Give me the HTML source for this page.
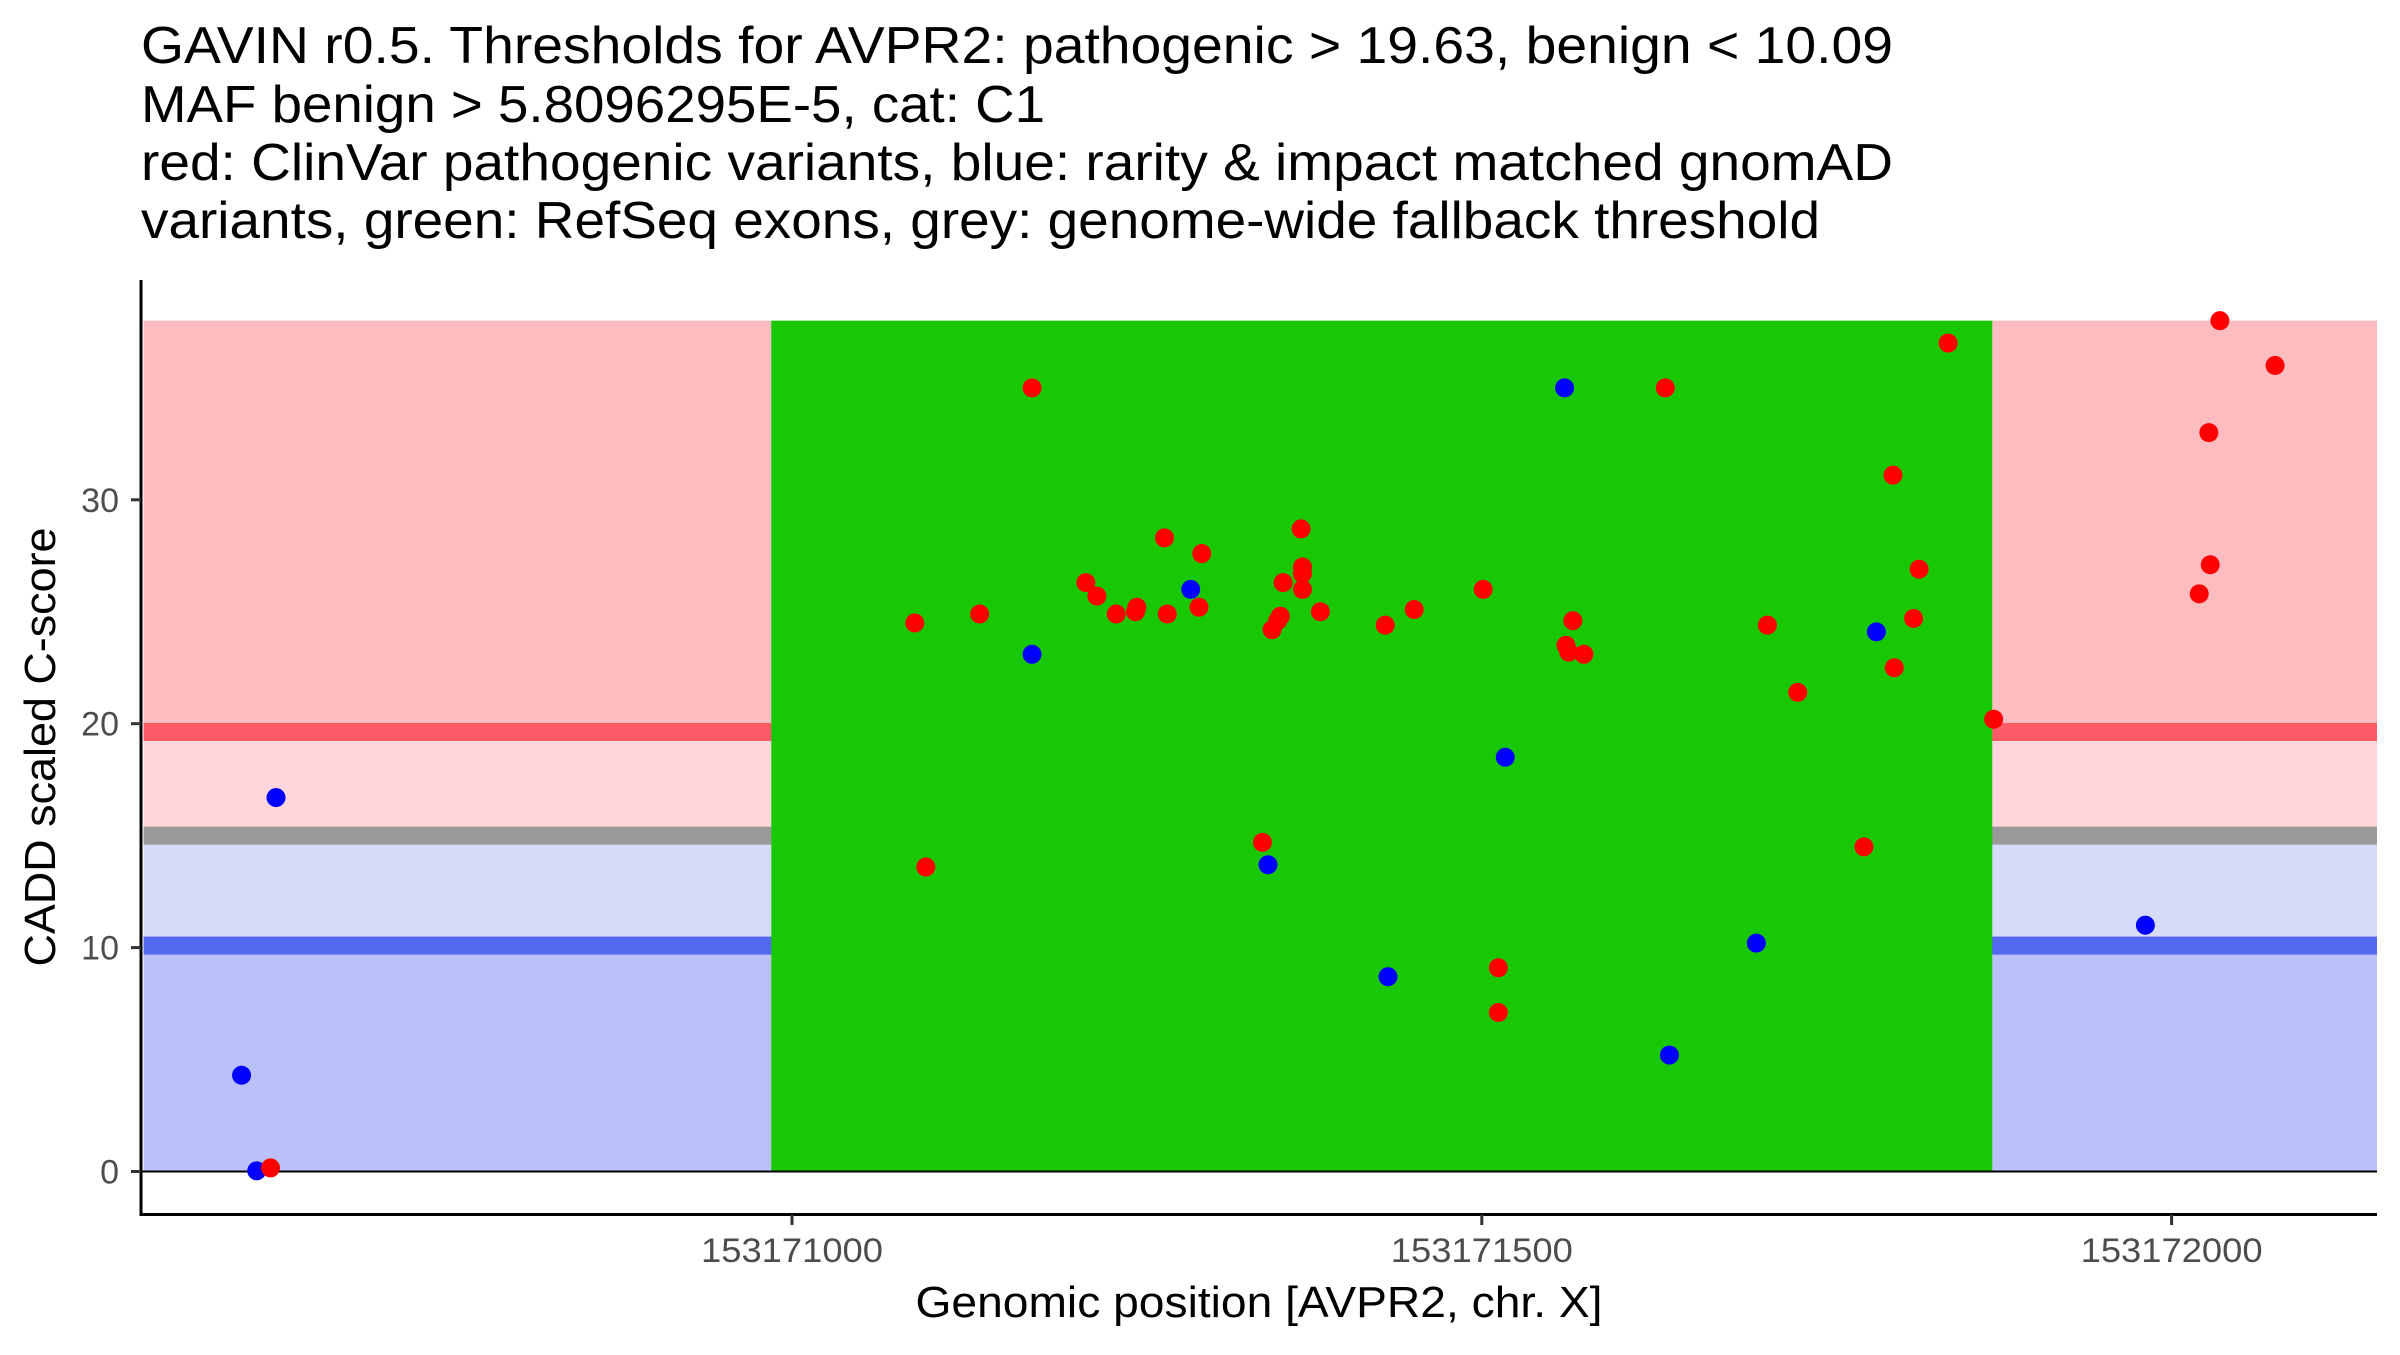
<!DOCTYPE html>
<html><head><meta charset="utf-8"><style>
html,body{margin:0;padding:0;background:#fff;}
svg text{font-family:"Liberation Sans",Arial,sans-serif;}
</style></head><body>
<svg id="chart" width="2400" height="1350" viewBox="0 0 2400 1350" xmlns="http://www.w3.org/2000/svg">
<g font-size="52" fill="#000">
<text x="141" y="63" textLength="1752" lengthAdjust="spacingAndGlyphs">GAVIN r0.5. Thresholds for AVPR2: pathogenic &gt; 19.63, benign &lt; 10.09</text>
<text x="141" y="122" textLength="904" lengthAdjust="spacingAndGlyphs">MAF benign &gt; 5.8096295E-5, cat: C1</text>
<text x="141" y="180" textLength="1752" lengthAdjust="spacingAndGlyphs">red: ClinVar pathogenic variants, blue: rarity &amp; impact matched gnomAD</text>
<text x="141" y="238" textLength="1679" lengthAdjust="spacingAndGlyphs">variants, green: RefSeq exons, grey: genome-wide fallback threshold</text>
</g>
<g id="bands"></g>
<g id="axes"></g>
<g id="points"></g>
<text x="1259" y="1317" font-size="44" text-anchor="middle" fill="#000" textLength="687" lengthAdjust="spacingAndGlyphs">Genomic position [AVPR2, chr. X]</text>
<text transform="translate(55,747) rotate(-90)" font-size="44" text-anchor="middle" fill="#000" textLength="439" lengthAdjust="spacingAndGlyphs">CADD scaled C-score</text>
</svg>
<script>
const pathogenicThreshold = 19.63;
const benignThreshold = 10.09;
const fallbackThreshold = 15.0;
const yMaxBand = 38.0;
const exonStart = 153170985;
const exonEnd = 153171870;
const bandStart = 153170530;
const xTicks = [153171000, 153171500, 153172000];
const yTicks = [0, 10, 20, 30];
const redPos = [153170622,153171089,153171097,153171136,153171174,153171213,153171221,153171235,153171249,153171250,153171270,153171272,153171295,153171297,153171341,153171348,153171352,153171354,153171356,153171369,153171370,153171370,153171370,153171383,153171430,153171451,153171501,153171512,153171512,153171561,153171563,153171566,153171574,153171633,153171707,153171729,153171777,153171798,153171799,153171813,153171817,153171838,153171871,153172020,153172028,153172027,153172035,153172075];
const redScore = [0.16,24.5,13.6,24.9,35.0,26.3,25.7,24.9,25.0,25.2,28.3,24.9,25.2,27.6,14.7,24.2,24.6,24.8,26.3,28.7,27.0,26.7,26.0,25.0,24.4,25.1,26.0,9.1,7.1,23.5,23.2,24.6,23.1,35.0,24.4,21.4,14.5,31.1,22.5,24.7,26.9,37.0,20.2,25.8,27.1,33.0,38.0,36.0];
const bluePos = [153170601,153170612,153170626,153171174,153171289,153171345,153171432,153171517,153171560,153171636,153171699,153171786,153171981];
const blueScore = [4.3,0.03,16.7,23.1,26.0,13.7,8.7,18.5,35.0,5.2,10.2,24.1,11.0];

const NS = 'http://www.w3.org/2000/svg';
const plotL = 141, plotR = 2377;
function xs(v){ return 792 + (v - 153171000) * 1.3796; }
function ys(v){ return 1171.5 - v * 22.39; }
function mk(tag, attrs, parent){
  const el = document.createElementNS(NS, tag);
  for (const k in attrs) el.setAttribute(k, attrs[k]);
  parent.appendChild(el);
  return el;
}
const bands = document.getElementById('bands');
const axes = document.getElementById('axes');
const pts = document.getElementById('points');
const bx0 = xs(bandStart), bx1 = plotR;
function band(y0, y1, color, name){
  const r = mk('rect', {x: bx0, y: ys(y1), width: bx1 - bx0, height: ys(y0) - ys(y1), fill: color}, bands);
  
  
}
band(pathogenicThreshold, yMaxBand, '#fcbcc0', 'pathogenic-zone');
band(fallbackThreshold, pathogenicThreshold, '#fed6db', 'upper-uncertain-zone');
band(benignThreshold, fallbackThreshold, '#d7daf9', 'lower-uncertain-zone');
band(0, benignThreshold, '#bac0f8', 'benign-zone');
function hline(v, color, name){
  const r = mk('rect', {x: bx0, y: ys(v) - 9, width: bx1 - bx0, height: 18, fill: color}, bands);
  
  
}
hline(pathogenicThreshold, '#fd5a68', 'pathogenic-threshold-line');
hline(fallbackThreshold, '#999999', 'fallback-threshold-line');
hline(benignThreshold, '#5268ef', 'benign-threshold-line');
const ex = mk('rect', {x: xs(exonStart), y: ys(yMaxBand), width: xs(exonEnd) - xs(exonStart), height: ys(0) - ys(yMaxBand), fill: '#19c805'}, bands);


const zl = mk('line', {x1: plotL, x2: plotR, y1: ys(0), y2: ys(0), stroke: '#000', 'stroke-width': 2}, bands);



const yAx = mk('line', {x1: 141, x2: 141, y1: 280, y2: 1215.5, stroke: '#000', 'stroke-width': 3}, axes);


const xAx = mk('line', {x1: 139.5, x2: plotR, y1: 1214.5, y2: 1214.5, stroke: '#000', 'stroke-width': 3}, axes);


yTicks.forEach(function(t){
  const tk = mk('line', {x1: 131, x2: 141, y1: ys(t), y2: ys(t), stroke: '#333', 'stroke-width': 3}, axes);
  
  
  const tl = mk('text', {x: 119, y: ys(t) + 12, 'font-size': 34, 'text-anchor': 'end', fill: '#4d4d4d'}, axes);
  tl.textContent = t;
  
  
});
xTicks.forEach(function(t){
  const tk = mk('line', {x1: xs(t), x2: xs(t), y1: 1214.5, y2: 1225, stroke: '#333', 'stroke-width': 3}, axes);
  
  
  const tl = mk('text', {x: xs(t), y: 1262, 'font-size': 34, 'text-anchor': 'middle', fill: '#4d4d4d', textLength: 182, lengthAdjust: 'spacingAndGlyphs'}, axes);
  tl.textContent = t;
  
  
});
function dot(p, s, color, name){
  const c = mk('circle', {cx: xs(p), cy: ys(s), r: 9.5, fill: color}, pts);
  
  
}
bluePos.forEach(function(p, i){ dot(p, blueScore[i], '#0000ff', 'gnomad-variant-point'); });
redPos.forEach(function(p, i){ dot(p, redScore[i], '#ff0000', 'clinvar-pathogenic-point'); });
</script>
</body></html>
